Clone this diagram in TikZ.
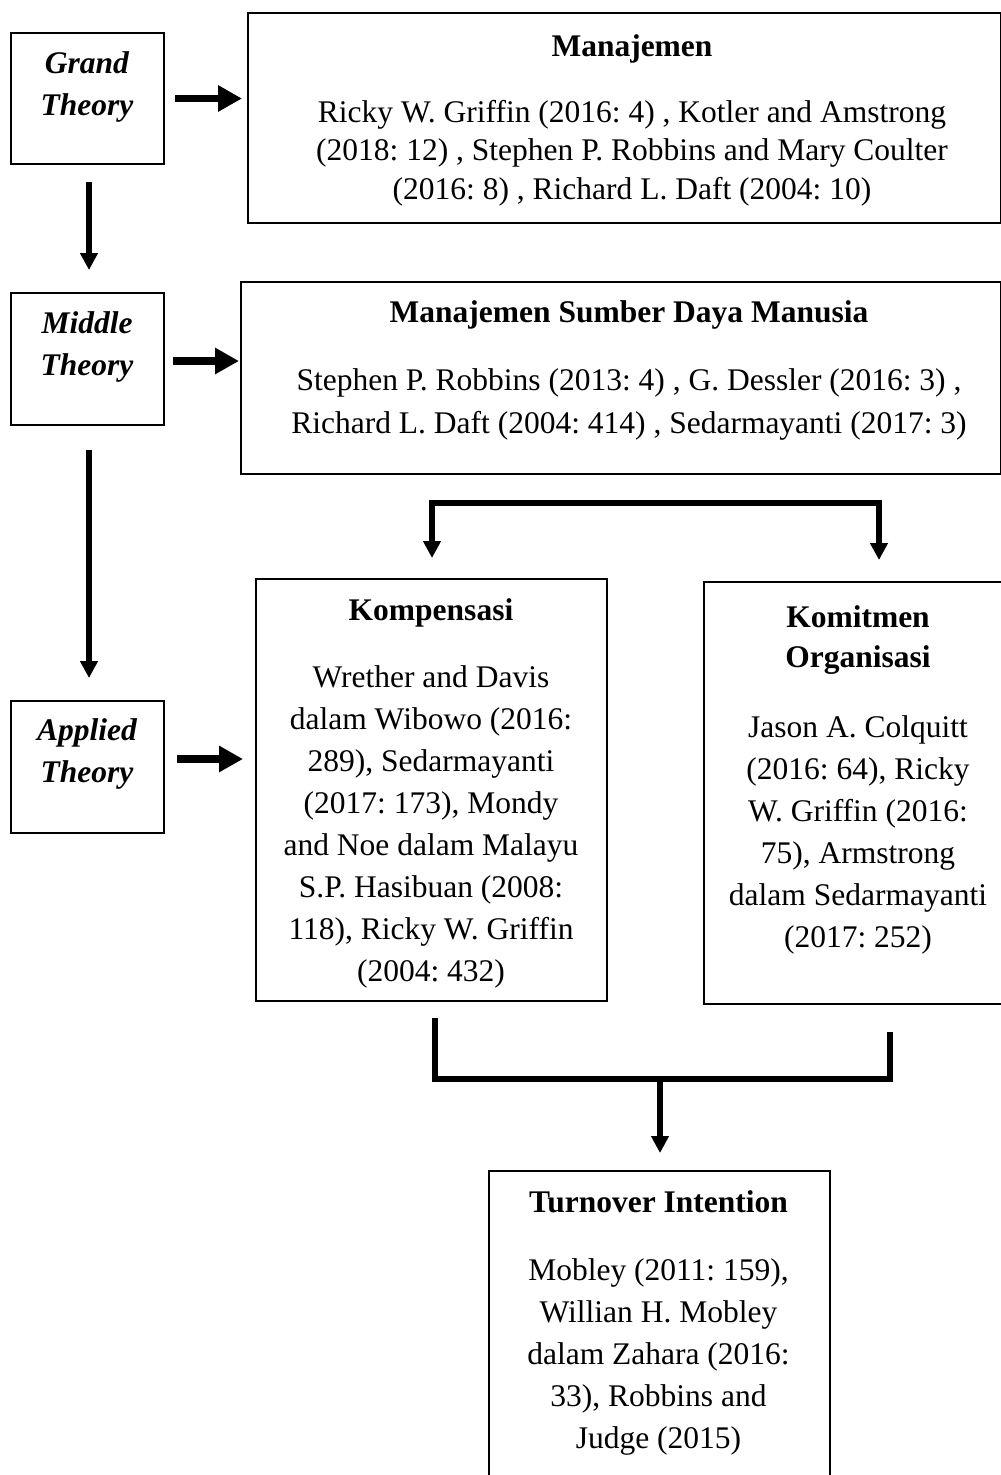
\documentclass[tikz,border=0pt]{standalone}
\usepackage{fontspec}
\setmainfont{Liberation Serif}
\usetikzlibrary{arrows.meta}
\frenchspacing
\begin{document}
\begin{tikzpicture}[x=1pt,y=-1pt,
  box/.style={draw, line width=2pt, anchor=north west, inner sep=0pt},
  txt/.style={anchor=north, inner sep=0pt, align=center, font=\fontsize{31.5}{42}\selectfont\frenchspacing},
  lefttxt/.style={txt, font=\fontsize{31.5}{42}\selectfont\bfseries\itshape},
  harrow/.style={line width=7.5pt, -{Triangle[length=24pt,width=25pt]}},
  varrow/.style={line width=5.5pt, -{Triangle[length=17pt,width=17pt]}},
  bline/.style={line width=5.5pt, line join=miter}
]
\useasboundingbox (0,0) rectangle (1001,1475);
\fill[white] (0,0) rectangle (1001,1475);

% boxes
\node[box, minimum width=153pt, minimum height=131pt] (grand) at (10,32) {};
\node[box, minimum width=153pt, minimum height=132pt] (middle) at (10,292) {};
\node[box, minimum width=153pt, minimum height=132pt] (applied) at (10,700) {};
\node[box, minimum width=753pt, minimum height=210pt] (manaj) at (247,12) {};
\node[box, minimum width=760pt, minimum height=192pt] (msdm) at (240,281) {};
\node[box, minimum width=351pt, minimum height=422pt] (komp) at (255,578) {};
\node[box, minimum width=310pt, minimum height=422pt] (komit) at (703,581) {};
\node[box, minimum width=341pt, minimum height=320pt] (turn) at (488,1170) {};

% texts
\node[lefttxt] (grandt) at (87,51) {Grand\\Theory};
\node[lefttxt] (middlet) at (87,311) {Middle\\Theory};
\node[lefttxt] (appliedt) at (87,718) {Applied\\Theory};

\node[txt, font=\fontsize{31.5}{38.5}\selectfont\frenchspacing] (manajt) at (632,34)
  {\textbf{Manajemen}\\[27.5pt]
   Ricky W. Griffin (2016: 4) , Kotler and Amstrong\\
   (2018: 12) , Stephen P. Robbins and Mary Coulter\\
   (2016: 8) , Richard L. Daft (2004: 10)};

\node[txt, font=\fontsize{31.5}{43}\selectfont\frenchspacing] (msdmt) at (629,300)
  {\textbf{Manajemen Sumber Daya Manusia}\\[25pt]
   Stephen P. Robbins (2013: 4) , G. Dessler (2016: 3) ,\\
   Richard L. Daft (2004: 414) , Sedarmayanti (2017: 3)};

\node[txt] (kompt) at (431,598)
  {\textbf{Kompensasi}\\[25pt]
   Wrether and Davis\\
   dalam Wibowo (2016:\\
   289), Sedarmayanti\\
   (2017: 173), Mondy\\
   and Noe dalam Malayu\\
   S.P. Hasibuan (2008:\\
   118), Ricky W. Griffin\\
   (2004: 432)};

\node[txt] (komitt) at (858,605)
  {\textbf{Komitmen}\\[-2pt]
   \textbf{Organisasi}\\[28pt]
   Jason A. Colquitt\\
   (2016: 64), Ricky\\
   W. Griffin (2016:\\
   75), Armstrong\\
   dalam Sedarmayanti\\
   (2017: 252)};

\node[txt] (turnt) at (658.5,1190)
  {\textbf{Turnover Intention}\\[26pt]
   Mobley (2011: 159),\\
   Willian H. Mobley\\
   dalam Zahara (2016:\\
   33), Robbins and\\
   Judge (2015)};

% horizontal arrows
\draw[harrow, shorten <=10pt, shorten >=5pt] (grand.east) -- (grand.east -| manaj.west);
\draw[harrow, shorten <=8pt, shorten >=1pt] ([yshift=-2pt]middle.east) -- ([yshift=-2pt]middle.east -| msdm.west);
\draw[harrow, shorten <=12pt, shorten >=12pt] ([yshift=8pt]applied.east) -- ([yshift=8pt]applied.east -| komp.west);

% vertical arrows
\draw[varrow, shorten <=17pt, shorten >=22pt] ([xshift=1.5pt]grand.south) -- ([xshift=1.5pt]middle.north);
\draw[varrow, shorten <=24pt, shorten >=22pt] ([xshift=1.5pt]middle.south) -- ([xshift=1.5pt]applied.north);

% top bracket
\coordinate (tl) at (432,503);
\coordinate (tr) at (879,503);
\draw[bline, {Triangle[length=17pt,width=17pt]}-{Triangle[length=17pt,width=17pt]}, shorten <=20pt, shorten >=21pt]
  (tl |- komp.north) -- (tl) -- (tr) -- (tr |- komit.north);

% bottom bracket
\coordinate (bl) at (435,1018);
\coordinate (br) at (890,1032);
\coordinate (bm) at (660,1079);
\draw[bline] (bl) -- (bl |- bm) -- (br |- bm) -- (br);
\draw[varrow, shorten >=17pt] (bm) -- (bm |- turn.north);
\end{tikzpicture}
\end{document}
